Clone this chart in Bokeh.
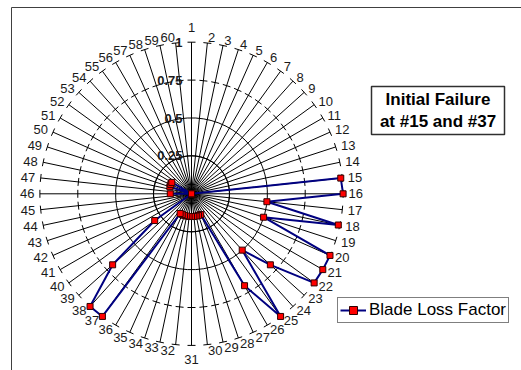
import numpy as np
from bokeh.plotting import figure
from bokeh.models import Range1d, Legend, LegendItem, ColumnDataSource
from bokeh.core.properties import value, field
from bokeh.embed import file_html
from bokeh.resources import INLINE

# ---- data -------------------------------------------------------------
blades = [str(i) for i in range(1, 61)]
blade_loss = [
    0, 0, 0, 0, 0, 0, 0, 0, 0, 0,            # 1-10
    0, 0, 0, 0, 0.99, 1.0, 0.5, 0.99, 0.5, 1.0,  # 11-20
    1.0, 1.0, 0.70, 0.50, 1.0, 0.70, 0.15, 0.15, 0.15, 0.15,  # 21-30
    0.15, 0.15, 0.15, 0.15, 0.15, 0.15, 1.0, 1.0, 0.70, 0.30,  # 31-40
    0, 0, 0, 0, 0, 0.14, 0, 0, 0.15, 0.15,   # 41-50
    0.15, 0, 0, 0, 0, 0, 0, 0, 0, 0,         # 51-60
]
ring_values = [0, 0.25, 0.5, 0.75, 1.0]
ring_labels = ["0", "0.25", "0.5", "0.75", "1"]
series_name = "Blade Loss Factor"
note_lines = ["Initial Failure", "at #15 and #37"]

# ---- layout (pixels) ---------------------------------------------------
W, H = 521, 370
CX, CY, R = 191.0, 193.3, 151.6   # radar centre and radius of value 1
FONT = "Liberation Sans"


def to_data(px, py):
    return (px - CX) / R, (CY - py) / R


p = figure(width=W, height=H,
           x_range=Range1d(-CX / R, (W - CX) / R),
           y_range=Range1d(-(H - CY) / R, CY / R),
           output_backend="svg", toolbar_location=None,
           x_axis_type=None, y_axis_type=None, min_border=0)
p.grid.visible = False
p.outline_line_color = None
p.background_fill_color = "white"
p.border_fill_color = "white"

# chart-area frame (top and left edges visible)
fx0, fy0 = to_data(11, 7)
fx1, _ = to_data(521, 7)
_, fy1 = to_data(11, 370)
p.segment(x0=[fx0, fx0], y0=[fy0, fy0], x1=[fx1, fx0], y1=[fy0, fy1],
          line_color="#404040", line_width=1)

# ---- spokes and tick marks ---------------------------------------------
n = len(blades)
theta = np.deg2rad(np.arange(n) * 360.0 / n)
sx, sy = np.sin(theta), np.cos(theta)

p.segment(x0=np.zeros(n), y0=np.zeros(n), x1=sx, y1=sy,
          line_color="black", line_width=1)

half = 4.0 / R
tx0, ty0, tx1, ty1 = [], [], [], []
for rv in ring_values[1:]:
    cx, cy = rv * sx, rv * sy
    px, py = np.cos(theta), -np.sin(theta)
    tx0.extend(cx - half * px); ty0.extend(cy - half * py)
    tx1.extend(cx + half * px); ty1.extend(cy + half * py)
p.segment(x0=tx0, y0=ty0, x1=tx1, y1=ty1, line_color="black", line_width=1)

# ---- category labels around the rim ------------------------------------
lx, ly, la, lb = [], [], [], []
for s, c in zip(sx, sy):
    if abs(s) < 0.01:
        off = 10.0 / R
        la.append("center")
        lb.append("bottom" if c > 0 else "top")
    else:
        off = 5.5 / R
        la.append("left" if s > 0 else "right")
        lb.append("middle")
    lx.append(s * (1 + off))
    ly.append(c * (1 + off))
lab_src = ColumnDataSource(dict(x=lx, y=ly, text=blades, align=la, base=lb))
p.text(x="x", y="y", text="text", source=lab_src,
       text_align=field("align"), text_baseline=field("base"),
       text_font=value(FONT), text_font_size="13px", text_color="#1a1a1a")

# value-axis labels along the first spoke
p.text(x=[-9.0 / R] * len(ring_values), y=ring_values, text=ring_labels,
       text_align="right", text_baseline="middle",
       text_font=value(FONT), text_font_size="13px", text_font_style="bold",
       text_color="#1a1a1a")

# ---- series ------------------------------------------------------------
vals = np.array(blade_loss, dtype=float)
xs, ys = vals * sx, vals * sy
r_line = p.line(np.append(xs, xs[0]), np.append(ys, ys[0]),
                line_color="#000080", line_width=2)
r_pts = p.scatter(xs, ys, marker="square", size=6,
                  fill_color="#ff0000", line_color="#300000", line_width=1)

legend = Legend(items=[LegendItem(label=series_name, renderers=[r_line, r_pts])],
                location=(337, H - 323), orientation="vertical",
                label_text_font=FONT, label_text_font_size="17px",
                label_text_color="black",
                glyph_width=26, glyph_height=20, label_height=20,
                label_standoff=3, padding=2, spacing=0, margin=0,
                border_line_color="black", border_line_width=1,
                background_fill_color="white", background_fill_alpha=1)
p.add_layout(legend)

# ---- note box ------------------------------------------------------------
bl, bt = to_data(371, 86)
br, bb = to_data(504, 134)
p.quad(left=[bl], right=[br], top=[bt], bottom=[bb],
       fill_color="white", line_color="#303030", line_width=1.5)
nx, _ = to_data(437.5, 0)
ny = [to_data(0, 99)[1], to_data(0, 121)[1]]
p.text(x=[nx, nx], y=ny, text=note_lines, text_align="center",
       text_baseline="middle", text_font=value(FONT), text_font_size="17px",
       text_font_style="bold", text_color="black")

open("out.html", "w").write(file_html(p, INLINE))
